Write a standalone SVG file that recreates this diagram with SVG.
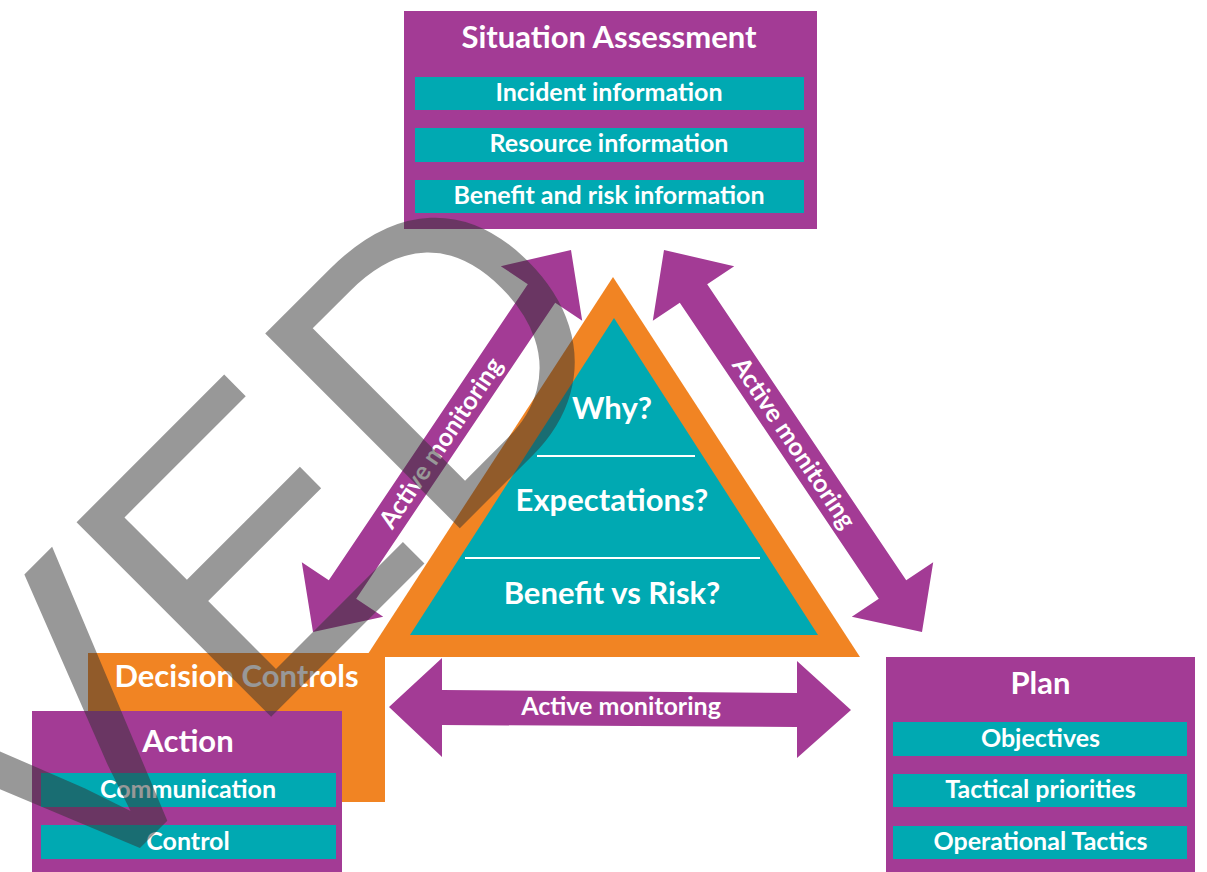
<svg xmlns="http://www.w3.org/2000/svg" width="1207" height="872" viewBox="0 0 1207 872">
<defs>
<style>
.t{font-family:Lato,"Open Sans","Liberation Sans",sans-serif;font-weight:bold;fill:#fff;text-anchor:middle}
.h{font-size:31px}
.s{font-size:25px}
.m{font-size:25px}
.pur{fill:#a33b95}
.teal{fill:#00a9b2}
.org{fill:#f18423}
.wm{font-family:"Liberation Sans",Arial,sans-serif;font-size:400px;fill:#313131;fill-opacity:0.5}
</style>
</defs>
<rect width="1207" height="872" fill="#fff"/>

<g id="decision-controls">
<rect class="org" x="88" y="653" width="297" height="149"/>
<text class="t h" x="236.5" y="687">Decision Controls</text>
</g>

<g id="triangle">
<polygon class="org" points="613,277 366,657 860,657"/>
<polygon class="teal" points="614,318 410,635 818,635"/>
<line x1="537" y1="456" x2="695" y2="456" stroke="#fff" stroke-width="2"/>
<line x1="465" y1="558" x2="760" y2="558" stroke="#fff" stroke-width="2"/>
<text class="t h" x="612" y="419">Why?</text>
<text class="t h" x="612" y="511">Expectations?</text>
<text class="t h" x="612" y="604">Benefit vs Risk?</text>
</g>

<g id="situation-assessment">
<rect class="pur" x="404" y="11" width="413" height="218"/>
<text class="t h" x="609" y="48">Situation Assessment</text>
<rect class="teal" x="415" y="77" width="389" height="33"/>
<text class="t s" x="609" y="101">Incident information</text>
<rect class="teal" x="415" y="128" width="389" height="34"/>
<text class="t s" x="609" y="152">Resource information</text>
<rect class="teal" x="415" y="180" width="389" height="33"/>
<text class="t s" x="609" y="204">Benefit and risk information</text>
</g>

<g id="plan">
<rect class="pur" x="886" y="657" width="309" height="215"/>
<text class="t h" x="1040.5" y="694">Plan</text>
<rect class="teal" x="893" y="722" width="294" height="34"/>
<text class="t s" x="1040.5" y="747">Objectives</text>
<rect class="teal" x="893" y="774" width="294" height="33"/>
<text class="t s" x="1040.5" y="798">Tactical priorities</text>
<rect class="teal" x="893" y="826" width="294" height="33"/>
<text class="t s" x="1040.5" y="850">Operational Tactics</text>
</g>

<g id="action">
<rect class="pur" x="32" y="711" width="310" height="161"/>
<text class="t h" x="188" y="752">Action</text>
<rect class="teal" x="41" y="773" width="295" height="34"/>
<text class="t s" x="188" y="798">Communication</text>
<rect class="teal" x="41" y="825" width="295" height="34"/>
<text class="t s" x="188" y="850">Control</text>
</g>

<g id="connectors">
<polygon class="pur" points="571,250 582.2,320.8 555.2,302.7 356.2,598.7 383.2,616.8 313,632 301.8,562.2 328.8,580.3 527.8,284.3 500.8,266.2"/>
<polygon class="pur" points="664,250 652.8,320.8 679.8,302.7 878.8,598.7 851.8,616.8 922,632 933.2,562.2 906.2,580.3 707.2,284.3 734.2,266.2"/>
<polygon class="pur" points="389,707 442,658 442,690 797,693 797,661 851,710 797,758 797,727 442,725 442,757"/>
<text class="t m" transform="translate(441,443) rotate(-56.1)" y="8.5">Active monitoring</text>
<text class="t m" transform="translate(794,443) rotate(56.1)" y="8.5">Active monitoring</text>
<text class="t m" x="621" y="715">Active monitoring</text>
</g>

<g id="watermark">
<text class="wm" transform="translate(59.3,928.7) rotate(-45)">VED</text>
</g>
</svg>
